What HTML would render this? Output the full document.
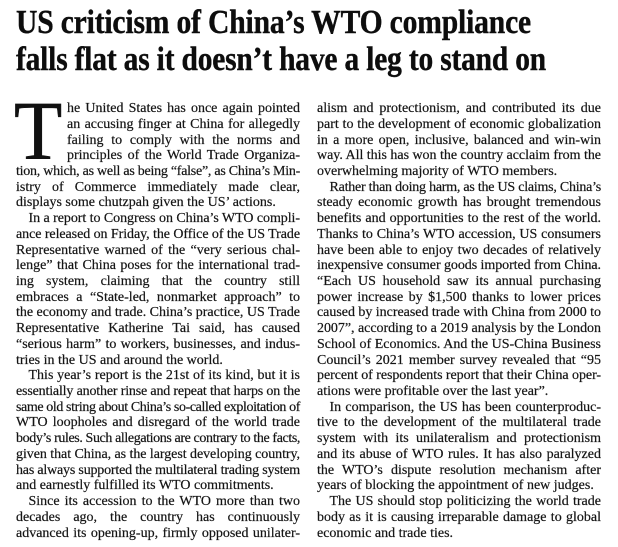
<!DOCTYPE html>
<html>
<head>
<meta charset="utf-8">
<style>
  html, body { margin:0; padding:0; background:#fff; }
  body { width:618px; height:547px; position:relative; overflow:hidden; }
  .tl { position:absolute; left:16px; font-family:"Liberation Serif", serif; font-weight:bold;
        font-size:34px; line-height:37px; color:#0d0d0d; white-space:nowrap;
        transform-origin:0 0; transform:scaleX(0.86); letter-spacing:-0.2px;
        -webkit-text-stroke:0.4px #0d0d0d; }
  .col { position:absolute; top:101.1px; width:284px; }
  .l { display:block; box-sizing:border-box; width:284px; height:15.73px; line-height:15.73px;
       font-family:"Liberation Serif", serif; font-size:14px; color:#141414;
       -webkit-text-stroke:0.2px #141414;
       text-align:justify; text-align-last:justify; white-space:nowrap; overflow:visible; }
  .l.e { text-align:left; text-align-last:left; }
  .i { padding-left:12.5px; }
  .dc { padding-left:51px; }
  #cap { position:absolute; left:13.8px; top:89.7px; font-family:"Liberation Serif", serif;
         font-size:84px; line-height:84px; color:#111; transform-origin:0 0; transform:scaleX(0.94);
         -webkit-text-stroke:0.6px #111; }
</style>
</head>
<body>
<div class="tl" id="t1" style="top:3.8px">US criticism of China’s WTO compliance</div>
<div class="tl" id="t2" style="top:40.5px">falls flat as it doesn’t have a leg to stand on</div>

<div id="cap">T</div>

<div class="col" style="left:16px">
  <div class="l dc"><span>he United States has once again pointed</span></div>
  <div class="l dc"><span>an accusing finger at China for allegedly</span></div>
  <div class="l dc"><span>failing to comply with the norms and</span></div>
  <div class="l dc"><span>principles of the World Trade Organiza-</span></div>
  <div class="l"><span>tion, which, as well as being “false”, as China’s Min-</span></div>
  <div class="l"><span>istry of Commerce immediately made clear,</span></div>
  <div class="l e"><span>displays some chutzpah given the US’ actions.</span></div>
  <div class="l i"><span>In a report to Congress on China’s WTO compli-</span></div>
  <div class="l"><span>ance released on Friday, the Office of the US Trade</span></div>
  <div class="l"><span>Representative warned of the “very serious chal-</span></div>
  <div class="l"><span>lenge” that China poses for the international trad-</span></div>
  <div class="l"><span>ing system, claiming that the country still</span></div>
  <div class="l"><span>embraces a “State-led, nonmarket approach” to</span></div>
  <div class="l"><span>the economy and trade. China’s practice, US Trade</span></div>
  <div class="l"><span>Representative Katherine Tai said, has caused</span></div>
  <div class="l"><span>“serious harm” to workers, businesses, and indus-</span></div>
  <div class="l e"><span>tries in the US and around the world.</span></div>
  <div class="l i"><span>This year’s report is the 21st of its kind, but it is</span></div>
  <div class="l"><span>essentially another rinse and repeat that harps on the</span></div>
  <div class="l"><span>same old string about China’s so-called exploitation of</span></div>
  <div class="l"><span>WTO loopholes and disregard of the world trade</span></div>
  <div class="l"><span>body’s rules. Such allegations are contrary to the facts,</span></div>
  <div class="l"><span>given that China, as the largest developing country,</span></div>
  <div class="l"><span>has always supported the multilateral trading system</span></div>
  <div class="l e"><span>and earnestly fulfilled its WTO commitments.</span></div>
  <div class="l i"><span>Since its accession to the WTO more than two</span></div>
  <div class="l"><span>decades ago, the country has continuously</span></div>
  <div class="l"><span>advanced its opening-up, firmly opposed unilater-</span></div>
</div>

<div class="col" style="left:317px">
  <div class="l"><span>alism and protectionism, and contributed its due</span></div>
  <div class="l"><span>part to the development of economic globalization</span></div>
  <div class="l"><span>in a more open, inclusive, balanced and win-win</span></div>
  <div class="l"><span>way. All this has won the country acclaim from the</span></div>
  <div class="l e"><span>overwhelming majority of WTO members.</span></div>
  <div class="l i"><span>Rather than doing harm, as the US claims, China’s</span></div>
  <div class="l"><span>steady economic growth has brought tremendous</span></div>
  <div class="l"><span>benefits and opportunities to the rest of the world.</span></div>
  <div class="l"><span>Thanks to China’s WTO accession, US consumers</span></div>
  <div class="l"><span>have been able to enjoy two decades of relatively</span></div>
  <div class="l"><span>inexpensive consumer goods imported from China.</span></div>
  <div class="l"><span>“Each US household saw its annual purchasing</span></div>
  <div class="l"><span>power increase by $1,500 thanks to lower prices</span></div>
  <div class="l"><span>caused by increased trade with China from 2000 to</span></div>
  <div class="l"><span>2007”, according to a 2019 analysis by the London</span></div>
  <div class="l"><span>School of Economics. And the US-China Business</span></div>
  <div class="l"><span>Council’s 2021 member survey revealed that “95</span></div>
  <div class="l"><span>percent of respondents report that their China oper-</span></div>
  <div class="l e"><span>ations were profitable over the last year”.</span></div>
  <div class="l i"><span>In comparison, the US has been counterproduc-</span></div>
  <div class="l"><span>tive to the development of the multilateral trade</span></div>
  <div class="l"><span>system with its unilateralism and protectionism</span></div>
  <div class="l"><span>and its abuse of WTO rules. It has also paralyzed</span></div>
  <div class="l"><span>the WTO’s dispute resolution mechanism after</span></div>
  <div class="l e"><span>years of blocking the appointment of new judges.</span></div>
  <div class="l i"><span>The US should stop politicizing the world trade</span></div>
  <div class="l"><span>body as it is causing irreparable damage to global</span></div>
  <div class="l e"><span>economic and trade ties.</span></div>
</div>

<script>
(function(){
  function fitTitle(id, target){
    var el=document.getElementById(id);
    el.style.transform='none';
    var w=el.getBoundingClientRect().width;
    if(w>0){ el.style.transform='scaleX('+(target/w)+')'; }
  }
  fitTitle('t1', 515);
  fitTitle('t2', 530);

  var ls=document.querySelectorAll('.l');
  for(var i=0;i<ls.length;i++){
    var d=ls[i], s=d.firstElementChild;
    d.style.textAlign='left'; d.style.textAlignLast='left';
    var pl=parseFloat(getComputedStyle(d).paddingLeft)||0;
    var W=d.clientWidth-pl;
    var t=s.textContent;
    var w=s.getBoundingClientRect().width;
    if(w>W){
      s.style.letterSpacing=((W-w)/t.length)+'px';
      w=s.getBoundingClientRect().width;
    }
    var n=(t.match(/ /g)||[]).length;
    if(!d.classList.contains('e') && w<W && n>0){
      s.style.wordSpacing=((W-w)/n)+'px';
    }
  }
})();
</script>
</body>
</html>
